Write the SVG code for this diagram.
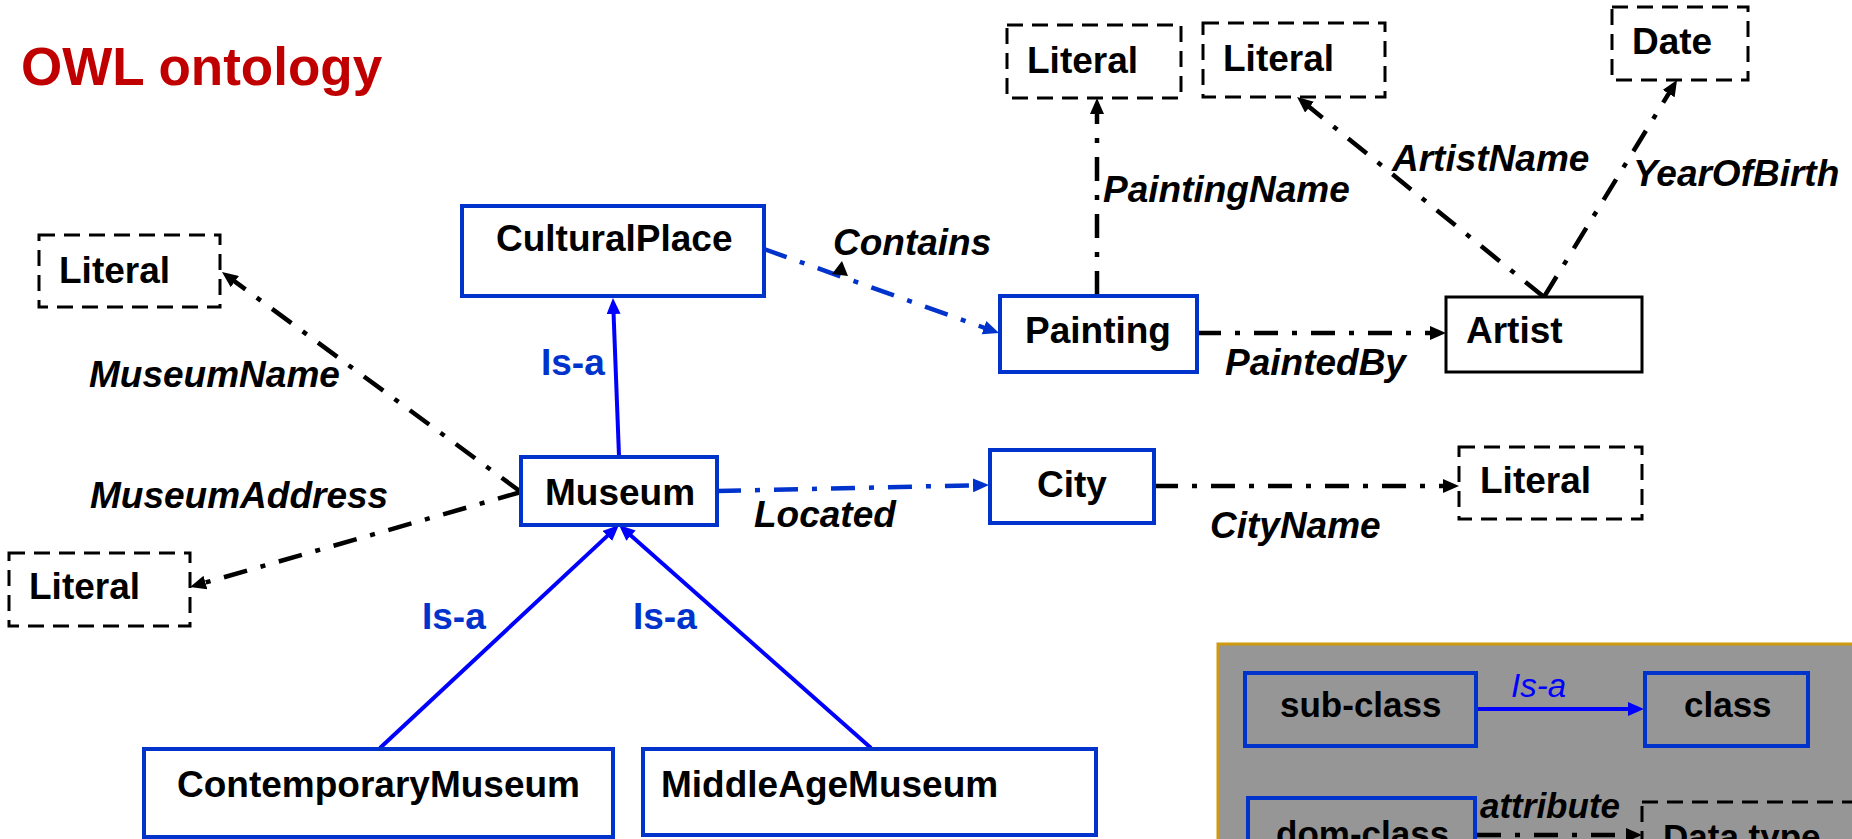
<svg xmlns="http://www.w3.org/2000/svg" width="1852" height="839" viewBox="0 0 1852 839">
  <style>
    text { font-family: "Liberation Sans", Arial, sans-serif; }
    .title { font-size: 53px; font-weight: bold; fill: #C00000; }
    .node { font-size: 37px; font-weight: bold; fill: #000; }
    .lab { font-size: 37px; font-weight: bold; font-style: italic; fill: #000; }
    .isa { font-size: 37px; font-weight: bold; fill: #0033CC; }
    .leg { font-size: 35px; font-weight: bold; fill: #000; }
    .cls { fill: #fff; stroke: #0033CC; stroke-width: 4; }
    .lit { fill: #fff; stroke: #000; stroke-width: 3; stroke-dasharray: 16 9; }
    .plain { fill: #fff; stroke: #000; stroke-width: 3; }
    .sub { fill: none; stroke: #0000FF; stroke-width: 4; }
    .rel { fill: none; stroke: #0033CC; stroke-width: 4.5; stroke-dasharray: 24 14 5 14; }
    .att { fill: none; stroke: #000; stroke-width: 4.5; stroke-dasharray: 24 14 5 14; }
  </style>
  <defs>
    <marker id="ahBlack" markerUnits="userSpaceOnUse" markerWidth="16" markerHeight="14" refX="10" refY="7" orient="auto">
      <path d="M0,0 L16,7 L0,14 z" fill="#000"/>
    </marker>
    <marker id="ahBlue" markerUnits="userSpaceOnUse" markerWidth="16" markerHeight="14" refX="10" refY="7" orient="auto">
      <path d="M0,0 L16,7 L0,14 z" fill="#0033CC"/>
    </marker>
    <marker id="ahIsa" markerUnits="userSpaceOnUse" markerWidth="16" markerHeight="14" refX="10" refY="7" orient="auto">
      <path d="M0,0 L16,7 L0,14 z" fill="#0000FF"/>
    </marker>
  </defs>

  <rect width="1852" height="839" fill="#fff"/>

  <text class="title" x="21" y="85">OWL ontology</text>

  <!-- legend panel -->
  <g id="legend">
    <rect x="1218" y="644" width="660" height="220" fill="#969696" stroke="#D09A10" stroke-width="3"/>
  </g>

  <!-- connectors -->
  <g id="connectors">
    <path class="att" d="M521,492 L226.8,275.6" marker-end="url(#ahBlack)"/>
    <path class="att" d="M521,492 L195.8,585.3" marker-end="url(#ahBlack)"/>
    <path class="sub" d="M619,456 L613.2,304" marker-end="url(#ahIsa)"/>
    <path class="rel" d="M717,491 L983,485.1" marker-end="url(#ahBlue)"/>
    <path class="sub" d="M380,748 L614.6,529.1" marker-end="url(#ahIsa)"/>
    <path class="sub" d="M871,748 L623.5,529" marker-end="url(#ahIsa)"/>
    <path class="rel" d="M764,249 L993.4,331" marker-end="url(#ahBlue)"/>
    <polygon points="842,261 832,274 848,276" fill="#000"/>
    <path class="att" d="M1097,295 L1097,104" marker-end="url(#ahBlack)"/>
    <path class="att" d="M1197,333 L1440,333" marker-end="url(#ahBlack)"/>
    <path class="att" d="M1544,297 L1301.7,100.8" marker-end="url(#ahBlack)"/>
    <path class="att" d="M1544,297 L1673.9,85.1" marker-end="url(#ahBlack)"/>
    <path class="att" d="M1154,486 L1453,486" marker-end="url(#ahBlack)"/>
    <path class="sub" d="M1477,709 L1638,709" marker-end="url(#ahIsa)"/>
    <path class="att" d="M1477,835 L1636,835" marker-end="url(#ahBlack)"/>
  </g>

  <!-- connector labels -->
  <g id="labels">
    <text class="lab" x="89" y="387">MuseumName</text>
    <text class="lab" x="90" y="508">MuseumAddress</text>
    <text class="isa" x="541" y="375">Is-a</text>
    <text class="isa" x="422" y="629">Is-a</text>
    <text class="isa" x="633" y="629">Is-a</text>
    <text class="lab" x="754" y="527">Located</text>
    <text class="lab" x="833" y="255">Contains</text>
    <text class="lab" x="1103" y="202">PaintingName</text>
    <text class="lab" x="1392" y="171">ArtistName</text>
    <text class="lab" x="1633" y="186">YearOfBirth</text>
    <text class="lab" x="1225" y="375">PaintedBy</text>
    <text class="lab" x="1210" y="538">CityName</text>
    <text x="1511" y="697" font-size="33" font-style="italic" fill="#0000FF">Is-a</text>
    <text class="leg" x="1480" y="818" font-style="italic">attribute</text>
  </g>

  <!-- ontology classes and literals -->
  <g id="literal-museumname">
    <rect class="lit" x="39" y="235" width="181" height="72"/>
    <text class="node" x="59" y="283">Literal</text>
  </g>
  <g id="culturalplace">
    <rect class="cls" x="462" y="206" width="302" height="90"/>
    <text class="node" x="496" y="251">CulturalPlace</text>
  </g>
  <g id="literal-paintingname">
    <rect class="lit" x="1007" y="25" width="174" height="73"/>
    <text class="node" x="1027" y="73">Literal</text>
  </g>
  <g id="literal-artistname">
    <rect class="lit" x="1203" y="23" width="182" height="74"/>
    <text class="node" x="1223" y="71">Literal</text>
  </g>
  <g id="date">
    <rect class="lit" x="1612" y="7" width="136" height="73"/>
    <text class="node" x="1632" y="54">Date</text>
  </g>
  <g id="painting">
    <rect class="cls" x="1000" y="296" width="197" height="76"/>
    <text class="node" x="1025" y="343">Painting</text>
  </g>
  <g id="artist">
    <rect class="plain" x="1446" y="297" width="196" height="75"/>
    <text class="node" x="1466" y="343">Artist</text>
  </g>
  <g id="museum">
    <rect class="cls" x="521" y="457" width="196" height="68"/>
    <text class="node" x="545" y="505">Museum</text>
  </g>
  <g id="city">
    <rect class="cls" x="990" y="450" width="164" height="73"/>
    <text class="node" x="1037" y="497">City</text>
  </g>
  <g id="literal-cityname">
    <rect class="lit" x="1459" y="447" width="183" height="72"/>
    <text class="node" x="1480" y="493">Literal</text>
  </g>
  <g id="literal-museumaddress">
    <rect class="lit" x="9" y="553" width="181" height="73"/>
    <text class="node" x="29" y="599">Literal</text>
  </g>
  <g id="contemporarymuseum">
    <rect class="cls" x="144" y="749" width="469" height="88"/>
    <text class="node" x="177" y="797">ContemporaryMuseum</text>
  </g>
  <g id="middleagemuseum">
    <rect class="cls" x="643" y="749" width="453" height="86"/>
    <text class="node" x="661" y="797">MiddleAgeMuseum</text>
  </g>

  <!-- legend entries -->
  <g id="legend-subclass">
    <rect x="1245" y="673" width="231" height="73" fill="none" stroke="#0033CC" stroke-width="4"/>
    <text class="leg" x="1280" y="717">sub-class</text>
  </g>
  <g id="legend-class">
    <rect x="1645" y="673" width="163" height="73" fill="none" stroke="#0033CC" stroke-width="4"/>
    <text class="leg" x="1684" y="717">class</text>
  </g>
  <g id="legend-domclass">
    <rect x="1248" y="798" width="227" height="80" fill="none" stroke="#0033CC" stroke-width="4"/>
    <text class="leg" x="1276" y="846">dom-class</text>
  </g>
  <g id="legend-datatype">
    <rect x="1642" y="802" width="230" height="80" fill="none" stroke="#000" stroke-width="3" stroke-dasharray="16 9"/>
    <text class="leg" x="1663" y="849">Data type</text>
  </g>
</svg>
